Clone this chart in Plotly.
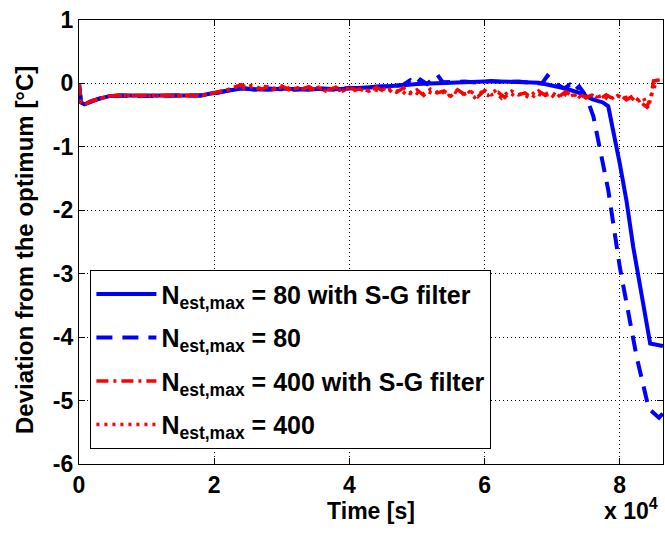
import plotly.graph_objects as go

# ---------------- data ----------------
t_sg80 = [0, 300, 800, 1800, 3000, 4500, 6000, 10000, 14000, 18000, 19500, 21000, 22500,
          24000, 26000, 28000, 30000, 32000, 34000, 36000, 38000, 40000, 42000, 44000, 46000,
          48000, 50000, 52000, 54000, 56000, 58000, 60000, 62000, 64000, 66000, 68000, 70000,
          72000, 74000, 76000, 77500, 78300, 80000, 81000, 82000, 84500, 86400]
v_sg80 = [0.0, -0.30, -0.33, -0.29, -0.24, -0.20, -0.19, -0.19, -0.19, -0.19, -0.16, -0.13, -0.10,
          -0.08, -0.09, -0.10, -0.08, -0.09, -0.10, -0.08, -0.09, -0.08, -0.07, -0.06, -0.04,
          -0.03, -0.01, 0.00, 0.01, 0.02, 0.02, 0.03, 0.03, 0.03, 0.02, 0.01, -0.03,
          -0.08, -0.15, -0.25, -0.30, -0.36, -1.26, -1.85, -2.58, -4.10, -4.14]

t_80 = [0, 300, 800, 1800, 3000, 4500, 6000, 10000, 14000, 18000, 19500, 21000, 22500,
        24000, 26000, 28000, 30000, 32000, 34000, 36000, 38000, 40000, 42000, 44000, 46000,
        48000, 49000, 49800, 50500, 51500, 52300, 53000, 53800, 55000, 57000, 59000, 61000,
        63000, 65000, 67000, 68500, 69300, 70000, 70800, 71800, 72600, 73300, 74000, 74700,
        75300, 76100, 78300, 80000, 82500, 84300, 85800, 86400]
v_80 = [0.0, -0.31, -0.33, -0.28, -0.24, -0.20, -0.19, -0.20, -0.19, -0.19, -0.17, -0.13, -0.10,
        -0.07, -0.10, -0.08, -0.09, -0.10, -0.08, -0.09, -0.10, -0.07, -0.08, -0.05, -0.05,
        -0.02, 0.05, -0.02, 0.06, -0.01, 0.08, 0.14, 0.02, 0.02, 0.03, 0.01, 0.04,
        0.02, 0.03, 0.01, 0.00, 0.12, 0.05, -0.02, -0.08, -0.02, -0.12, -0.05, -0.15,
        -0.28, -0.52, -1.68, -2.89, -4.31, -5.13, -5.27, -5.20]

t_sg400 = [0, 300, 800, 1800, 3000, 4500, 6000, 10000, 14000, 18000, 19500, 21000, 22000,
           23000, 24000, 25000, 26000, 27000, 28000, 29000, 30000, 31000, 32000, 33000, 34000,
           35000, 36000, 37000, 38000, 39000, 40000, 41000, 42000, 43000, 44000, 45000, 46000,
           47000, 48000, 49000, 50000, 51000, 52000, 53000, 54000, 55000, 56000, 57000, 58000,
           59000, 60000, 61000, 62000, 63000, 64000, 65000, 66000, 67000, 68000, 69000, 70000,
           71000, 72000, 73000, 74000, 75000, 76000, 77000, 78000, 79000, 80000, 81000, 82000,
           83000, 84000, 84600, 85000, 86000, 86400]
v_sg400 = [0.0, -0.30, -0.33, -0.28, -0.24, -0.20, -0.19, -0.19, -0.20, -0.19, -0.16, -0.13, -0.10,
           -0.06, -0.02, -0.07, -0.04, -0.09, -0.05, -0.08, -0.04, -0.10, -0.06, -0.09, -0.05,
           -0.11, -0.07, -0.10, -0.06, -0.12, -0.07, -0.10, -0.08, -0.13, -0.06, -0.12, -0.09,
           -0.14, -0.07, -0.16, -0.10, -0.19, -0.09, -0.15, -0.12, -0.20, -0.10, -0.17, -0.13,
           -0.21, -0.11, -0.18, -0.14, -0.22, -0.12, -0.18, -0.15, -0.23, -0.12, -0.19, -0.15,
           -0.21, -0.13, -0.20, -0.16, -0.23, -0.17, -0.25, -0.18, -0.24, -0.17, -0.26, -0.19,
           -0.29, -0.37, -0.22, 0.04, 0.05, 0.05]

t_400 = [0, 300, 800, 1800, 3000, 4500, 6000, 10000, 14000, 18000, 19500, 21000, 22000,
         23500, 24500, 25500, 26500, 27500, 28500, 29500, 30500, 31500, 32500, 33500, 34500,
         35500, 36500, 37500, 38500, 39500, 40500, 41500, 42500, 43500, 44500, 45500, 46500,
         47500, 48500, 49500, 50500, 51500, 52500, 53500, 54500, 55500, 56500, 57500, 58500,
         59500, 60500, 61500, 62500, 63500, 64500, 65500, 66500, 67500, 68500, 69500, 70500,
         71500, 72500, 73500, 74500, 75500, 76500, 77500, 78500, 79500, 80500, 81500, 82500,
         83500, 84200, 84800, 85500, 86400]
v_400 = [0.0, -0.31, -0.33, -0.29, -0.24, -0.20, -0.19, -0.20, -0.19, -0.19, -0.16, -0.12, -0.10,
         -0.04, -0.08, -0.03, -0.08, -0.05, -0.10, -0.06, -0.09, -0.05, -0.11, -0.07, -0.10,
         -0.06, -0.12, -0.08, -0.11, -0.07, -0.12, -0.08, -0.14, -0.09, -0.12, -0.07, -0.15,
         -0.10, -0.18, -0.11, -0.20, -0.12, -0.17, -0.10, -0.21, -0.13, -0.18, -0.11, -0.22,
         -0.14, -0.19, -0.12, -0.23, -0.13, -0.20, -0.16, -0.22, -0.13, -0.20, -0.14, -0.24,
         -0.15, -0.21, -0.17, -0.25, -0.16, -0.22, -0.19, -0.27, -0.18, -0.24, -0.20, -0.30,
         -0.22, -0.39, -0.15, 0.05, 0.06]

names = ["N<sub>est,max</sub> = 80 with S-G filter",
         "N<sub>est,max</sub> = 80",
         "N<sub>est,max</sub> = 400 with S-G filter",
         "N<sub>est,max</sub> = 400"]

x_tickvals = [0, 20000, 40000, 60000, 80000]
x_ticktext = ["0", "2", "4", "6", "8"]
y_tickvals = [1, 0, -1, -2, -3, -4, -5, -6]
y_ticktext = ["1", "0", "-1", "-2", "-3", "-4", "-5", "-6"]

FONT = "Liberation Sans"

# ---------------- figure ----------------
fig = go.Figure()
fig.add_trace(go.Scatter(x=t_sg80, y=v_sg80, mode="lines", name=names[0],
                         line=dict(color="#0000FF", width=4), legendgroup="a"))
fig.add_trace(go.Scatter(x=t_80, y=v_80, mode="lines", name=names[1],
                         line=dict(color="#0000FF", width=4, dash="16px,10px"), legendgroup="b"))
fig.add_trace(go.Scatter(x=t_sg400, y=v_sg400, mode="lines", name=names[2],
                         line=dict(color="#FF0000", width=3.5, dash="12px,5px,3px,5px"), legendgroup="c"))
fig.add_trace(go.Scatter(x=t_400, y=v_400, mode="lines", name=names[3],
                         line=dict(color="#FF0000", width=3.5, dash="3px,5px"), legendgroup="d"))

axis_common = dict(
    showline=True, linecolor="black", linewidth=1.3, mirror="ticks",
    ticks="inside", ticklen=6, tickcolor="black", tickwidth=1,
    showgrid=True, gridcolor="black", gridwidth=1, griddash="1px,3px",
    zeroline=False,
    tickfont=dict(size=23, color="black", family=FONT, weight="bold"),
)

fig.update_xaxes(range=[0, 86400], tickvals=x_tickvals, ticktext=x_ticktext,
                 title=dict(text="Time [s]", standoff=2,
                            font=dict(size=23, color="black", family=FONT, weight="bold")),
                 **axis_common)
fig.update_yaxes(range=[-6, 1], tickvals=y_tickvals, ticktext=y_ticktext, **axis_common)

# y-axis title (placed to match the reference's vertical offset)
fig.add_annotation(text="Deviation from the optimum [°C]", xref="paper", yref="paper",
                   x=-0.0925, y=0.482, xanchor="center", yanchor="middle", textangle=-90,
                   showarrow=False,
                   font=dict(size=24, color="black", family=FONT, weight="bold"))

fig.add_annotation(text="x 10<sup>4</sup>", xref="paper", yref="paper", x=1.0, y=-0.064,
                   xanchor="right", yanchor="top", showarrow=False, xshift=-3,
                   font=dict(size=23, color="black", family=FONT, weight="bold"))

fig.update_layout(
    width=665, height=533,
    margin=dict(l=79, r=2, t=20, b=69),
    paper_bgcolor="white", plot_bgcolor="white",
    font=dict(family=FONT, color="black", weight="bold"),
    legend=dict(x=0.019, y=0.034, xanchor="left", yanchor="bottom",
                bgcolor="white", bordercolor="black", borderwidth=1.3,
                font=dict(size=25, color="black", family=FONT, weight="bold"),
                tracegroupgap=8, itemwidth=60),
    showlegend=True,
)

fig.write_html("out.html")
